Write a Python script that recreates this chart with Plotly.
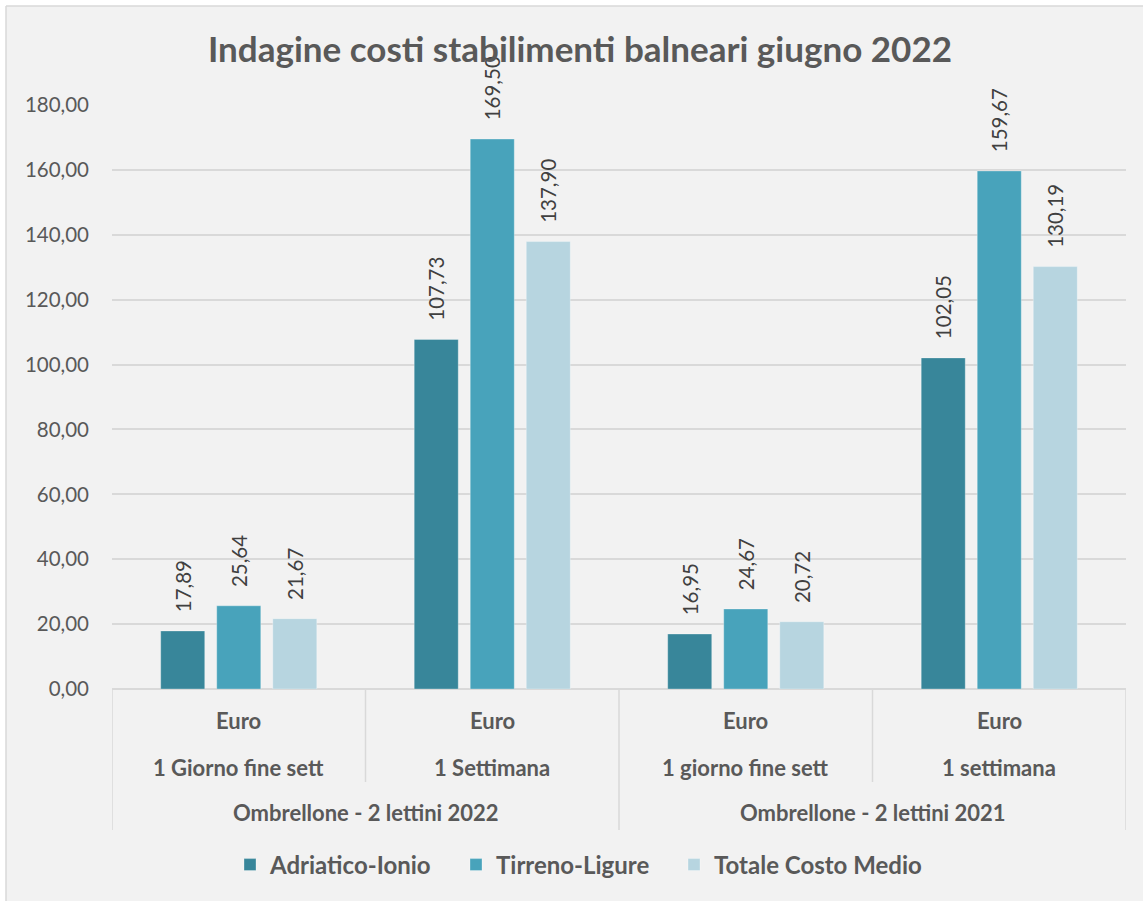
import plotly.graph_objects as go

# ---- data ----
groups = ["Ombrellone - 2 lettini 2022", "Ombrellone - 2 lettini 2021"]
periods = ["1 Giorno fine sett", "1 Settimana", "1 giorno fine sett", "1 settimana"]
units = ["Euro", "Euro", "Euro", "Euro"]
series_names = ["Adriatico-Ionio", "Tirreno-Ligure", "Totale Costo Medio"]
adriatico = [17.89, 107.73, 16.95, 102.05]
tirreno = [25.64, 169.50, 24.67, 159.67]
totale = [21.67, 137.90, 20.72, 130.19]
y_ticks = [0, 20, 40, 60, 80, 100, 120, 140, 160, 180]

colors = ["#38869A", "#48A3BB", "#B7D5E0"]
FONT = "Lato"
GRAY = "#595959"

W, H = 1143, 901
L, R, T, B = 112, 17, 105, 212
pw, ph = W - L - R, H - T - B

def px2paper_x(px):
    return (px - L) / pw

def px2paper_y(py):
    return (H - B - py) / ph

legend_ids = ["legend", "legend2", "legend3"]
legend_left_px = [230, 456, 674]

x_pos = list(range(len(periods)))
fig = go.Figure()
for name, vals, col, lid in zip(series_names, [adriatico, tirreno, totale], colors, legend_ids):
    fig.add_trace(go.Bar(
        name="<b>%s</b>" % name, x=x_pos, y=vals, legend=lid,
        marker=dict(color=col, line=dict(color="rgba(255,255,255,0.3)", width=1)),
        texttemplate="\u00a0\u00a0\u00a0%{y:.2f}",
        textposition="outside", textangle=-90, constraintext="none",
        textfont=dict(family=FONT, size=20.5, color="#404040"),
        cliponaxis=False,
    ))

BORDER = dict(color="#D9D9D9", width=1.5)
shapes = [
    dict(type="rect", xref="paper", yref="paper", layer="below",
         x0=px2paper_x(6), x1=px2paper_x(1160), y0=px2paper_y(920), y1=px2paper_y(6),
         fillcolor="#F2F2F2", line=dict(width=0)),
    dict(type="line", xref="paper", yref="paper", layer="below",
         x0=px2paper_x(6), x1=px2paper_x(1160), y0=px2paper_y(6), y1=px2paper_y(6),
         line=BORDER),
    dict(type="line", xref="paper", yref="paper", layer="below",
         x0=px2paper_x(6), x1=px2paper_x(6), y0=px2paper_y(920), y1=px2paper_y(6),
         line=BORDER),
]
# category dividers
n = len(periods)
per_group = n // len(groups)
for k in range(n + 1):
    xb = k - 0.5
    outer = (k % per_group == 0)
    shapes.append(dict(type="line", xref="x", yref="paper",
                       x0=xb, x1=xb, y0=0, y1=px2paper_y(830 if outer else 782),
                       line=BORDER))

annotations = []
cat_font = dict(family=FONT, size=22, color=GRAY)
for i in range(n):
    annotations.append(dict(x=i, y=px2paper_y(720), xref="x", yref="paper",
                            xanchor="center", yanchor="middle",
                            text="<b>%s</b>" % units[i], showarrow=False, font=cat_font))
    annotations.append(dict(x=i, y=px2paper_y(767), xref="x", yref="paper",
                            xanchor="center", yanchor="middle",
                            text="<b>%s</b>" % periods[i], showarrow=False, font=cat_font))
for g, gname in enumerate(groups):
    cx = (g * per_group + (g + 1) * per_group - 1) / 2
    annotations.append(dict(x=cx, y=px2paper_y(812), xref="x", yref="paper",
                            xanchor="center", yanchor="middle",
                            text="<b>%s</b>" % gname, showarrow=False, font=cat_font))

legend_layouts = {}
for lid, lx in zip(legend_ids, legend_left_px):
    legend_layouts[lid] = dict(orientation="h", x=px2paper_x(lx), xanchor="left",
                               y=px2paper_y(865), yanchor="middle",
                               font=dict(family=FONT, size=24, color=GRAY),
                               bgcolor="rgba(0,0,0,0)", itemwidth=30)

fig.update_layout(
    width=W, height=H,
    margin=dict(l=L, r=R, t=T, b=B, pad=0),
    paper_bgcolor="white", plot_bgcolor="rgba(0,0,0,0)",
    separators=",.",
    barmode="group", bargap=0.337, bargroupgap=0.214,
    title=dict(text="<b>Indagine costi stabilimenti balneari giugno 2022</b>",
               x=px2paper_x(580), xref="paper", xanchor="center",
               y=1 - 50 / H, yref="container", yanchor="middle",
               font=dict(family=FONT, size=35, color=GRAY)),
    xaxis=dict(range=[-0.5, n - 0.5], showticklabels=False, showgrid=False,
               zeroline=False, showline=False, ticks=""),
    yaxis=dict(range=[0, 180], tickvals=y_ticks, tickformat=".2f",
               showgrid=True, gridcolor="#D9D9D9", gridwidth=1.5,
               zeroline=True, zerolinecolor="#D9D9D9", zerolinewidth=1.5,
               showline=False, ticks="", ticklabelstandoff=22,
               tickfont=dict(family=FONT, size=20.5, color=GRAY)),
    shapes=shapes, annotations=annotations,
    showlegend=True,
    **legend_layouts,
)

fig.write_html("out.html", config={"displayModeBar": False},
               post_script="document.body.style.margin='0';")
